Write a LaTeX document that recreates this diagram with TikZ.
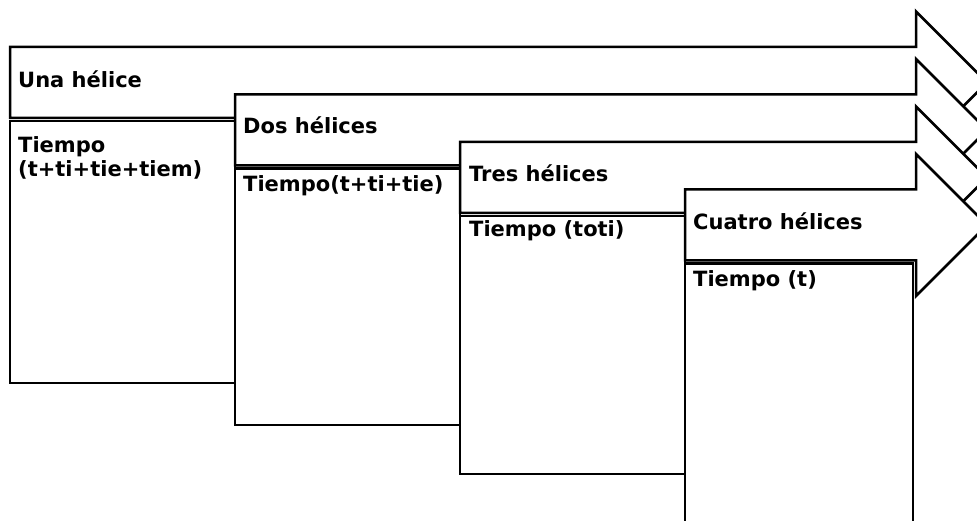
\documentclass[tikz,border=0pt]{standalone}
\usepackage{fontspec}
\setmainfont{DejaVu Sans}
\tikzset{
  flecha/.style={draw=black,line width=2.5pt,fill=white,line join=miter},
  caja/.style={draw=black,line width=2.5pt,fill=white},
  rotulo/.style={anchor=base west,inner sep=0pt,align=left,
    font=\fontsize{21}{23.5}\selectfont\bfseries}
}
\begin{document}
\begin{tikzpicture}
[x=1pt,y=-1pt]
\useasboundingbox (0,0) rectangle (977,521);
% una
\draw[flecha] (10,47) -- (916,47) -- (916,11.5) -- (987,82.5) -- (916,153.5) -- (916,118) -- (10,118) -- cycle;
\draw[caja] (10,121) rectangle (235,383);
\node[rotulo] (una) at (18,88) {Una hélice};
\node[rotulo] (tuna) at (18,176.5) {Tiempo\\(t+ti+tie+tiem)};
% dos
\draw[flecha] (235,94.5) -- (916,94.5) -- (916,59) -- (987,130) -- (916,201) -- (916,165.5) -- (235,165.5) -- cycle;
\draw[caja] (235,168.5) rectangle (460,425);
\node[rotulo] (dos) at (243,134) {Dos hélices};
\node[rotulo] (tdos) at (243,192) {Tiempo(t+ti+tie)};
% tres
\draw[flecha] (460,142) -- (916,142) -- (916,106.5) -- (987,177.5) -- (916,248.5) -- (916,213) -- (460,213) -- cycle;
\draw[caja] (460,216) rectangle (685,474);
\node[rotulo] (tres) at (469,182) {Tres hélices};
\node[rotulo] (ttres) at (469,237) {Tiempo (toti)};
% cuatro
\draw[flecha] (685,189.5) -- (916,189.5) -- (916,154) -- (987,225) -- (916,296) -- (916,260.5) -- (685,260.5) -- cycle;
\draw[caja] (685,263.5) rectangle (913,540);
\node[rotulo] (cuatro) at (693,230) {Cuatro hélices};
\node[rotulo] (tcuatro) at (693,287) {Tiempo (t)};

\end{tikzpicture}
\end{document}
